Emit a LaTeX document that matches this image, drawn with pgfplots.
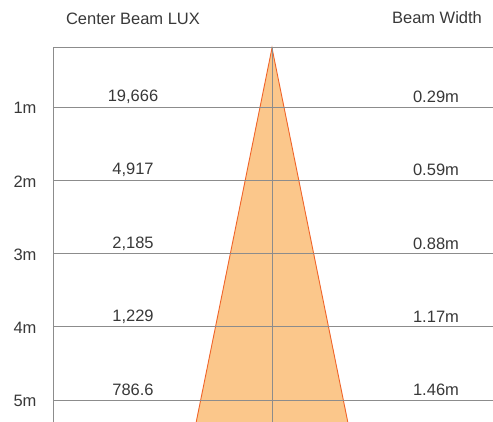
\documentclass[border=0pt]{standalone}
\usepackage{pgfplots}
\pgfplotsset{compat=1.18}
\usepackage{pgfplotstable}
\usepackage{fontspec}
\setmainfont{Liberation Sans}
\definecolor{txtc}{HTML}{383838}
\definecolor{gridc}{HTML}{8C8C8C}
\definecolor{beamc}{HTML}{FBC78B}
\definecolor{edgec}{HTML}{F0642A}
\pgfplotstableread{
m lux width lab
1 19,666 0.29m 1m
2 4,917 0.59m 2m
3 2,185 0.88m 3m
4 1,229 1.17m 4m
5 786.6 1.46m 5m
}\data
\newcommand\lblfont{\fontsize{16.5}{19}\selectfont}
\begin{document}
\begin{tikzpicture}
\begin{axis}[
  scale only axis, width=493pt, height=422pt,
  xmin=0, xmax=493, ymin=-0.4608, ymax=5.3003, y dir=reverse,
  hide axis, clip=true,
]
\path (rel axis cs:0,0) rectangle (rel axis cs:1,1);
% beam triangle
\addplot[fill=beamc, draw=edgec, line width=0.9pt] coordinates {(272,0.1945) (194,5.45) (350,5.45)} -- cycle;
% grid lines
\addplot[draw=gridc, line width=1pt] coordinates {(53,0.1945) (493,0.1945)};
\addplot[draw=gridc, line width=1pt] coordinates {(53,0.1945) (53,5.4)};
\addplot[draw=gridc, line width=1pt] coordinates {(272,0.1945) (272,5.4)};
\foreach \k in {1,...,5}{
  \edef\tmp{\noexpand\addplot[draw=gridc, line width=1pt] coordinates {(53,\k) (493,\k)};}
  \tmp
}
% labels
\addplot[draw=none, mark=none, nodes near coords, point meta=explicit symbolic,
  nodes near coords style={anchor=center, yshift=10pt, font=\lblfont, text=txtc}] table[x expr=133, y=m, meta=lux] {\data};
\addplot[draw=none, mark=none, nodes near coords, point meta=explicit symbolic,
  nodes near coords style={anchor=center, yshift=10pt, font=\lblfont, text=txtc}] table[x expr=436, y=m, meta=width] {\data};
\addplot[draw=none, mark=none, nodes near coords, point meta=explicit symbolic,
  nodes near coords style={anchor=center, yshift=-1pt, font=\lblfont, text=txtc}] table[x expr=25, y=m, meta=lab] {\data};
\node[font=\lblfont, text=txtc] at (axis cs:133,-0.201) {Center Beam LUX};
\node[font=\lblfont, text=txtc] at (axis cs:437,-0.215) {Beam Width};
\end{axis}
\end{tikzpicture}
\end{document}
